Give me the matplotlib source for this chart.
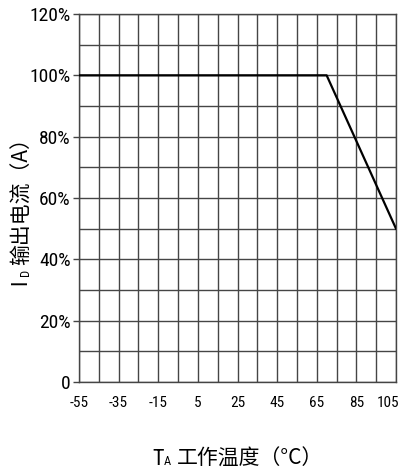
import numpy as np
import matplotlib
import matplotlib.pyplot as plt
from matplotlib.transforms import ScaledTranslation
matplotlib.use('Agg')

# derating curve: output current vs ambient temperature
temp = [-55, 70, 105]
current = [100, 100, 50]

x_ticks = [-55, -35, -15, 5, 25, 45, 65, 85, 105]
y_ticks = [0, 20, 40, 60, 80, 100, 120]
y_labels = ['0', '20%', '40%', '60%', '80%', '100%', '120%']

num_font = 'Roboto Condensed'
cjk_font = ['Noto Sans CJK SC', 'DejaVu Sans']

fig = plt.figure(figsize=(4.04, 4.75), dpi=100)
ax = fig.add_axes([79 / 404, 1 - 382 / 475, 317 / 404, 368 / 475])

# fine grid every 10 units
for xv in np.arange(-55, 106, 10):
    ax.axvline(xv, color='#454545', lw=1.0, zorder=1)
for yv in np.arange(0, 121, 10):
    ax.axhline(yv, color='#454545', lw=1.0, zorder=1)

ax.plot(temp, current, color='black', lw=1.6, zorder=3)

ax.set_xlim(-55, 105)
ax.set_ylim(0, 120)
ax.set_xticks(x_ticks)
ax.set_xticklabels([str(v) for v in x_ticks], fontname=num_font, fontsize=11)
ax.set_yticks(y_ticks)
ax.set_yticklabels(y_labels, fontname=num_font, fontsize=14)
ax.tick_params(axis='y', length=4, width=1, color='#454545', pad=2)
ax.tick_params(axis='x', length=0, pad=10)
for s in ax.spines.values():
    s.set_color('#454545')
    s.set_linewidth(1.0)

# pull the last x label in a bit so it stays inside the figure
last = ax.get_xticklabels()[-1]
last.set_transform(last.get_transform() + ScaledTranslation(-6 / 72, 0, fig.dpi_scale_trans))

# axis titles built from pieces so the subscripts stay small
fig.text(0.052, 0.400, 'I', rotation=90, fontname=num_font, fontsize=16,
         ha='center', va='bottom')
fig.text(0.062, 0.420, 'D', rotation=90, fontname=num_font, fontsize=9,
         ha='center', va='bottom')
fig.text(0.055, 0.443, '输出电流（A）', rotation=90, family=cjk_font, fontsize=15,
         ha='center', va='bottom')

fig.text(0.378, 0.022, 'T', fontname=num_font, fontsize=16, ha='left', va='baseline')
fig.text(0.405, 0.022, 'A', fontname=num_font, fontsize=9, ha='left', va='baseline')
fig.text(0.438, 0.022, '工作温度（°C）', family=cjk_font, fontsize=15,
         ha='left', va='baseline')

fig.savefig('out.png', dpi=100)
